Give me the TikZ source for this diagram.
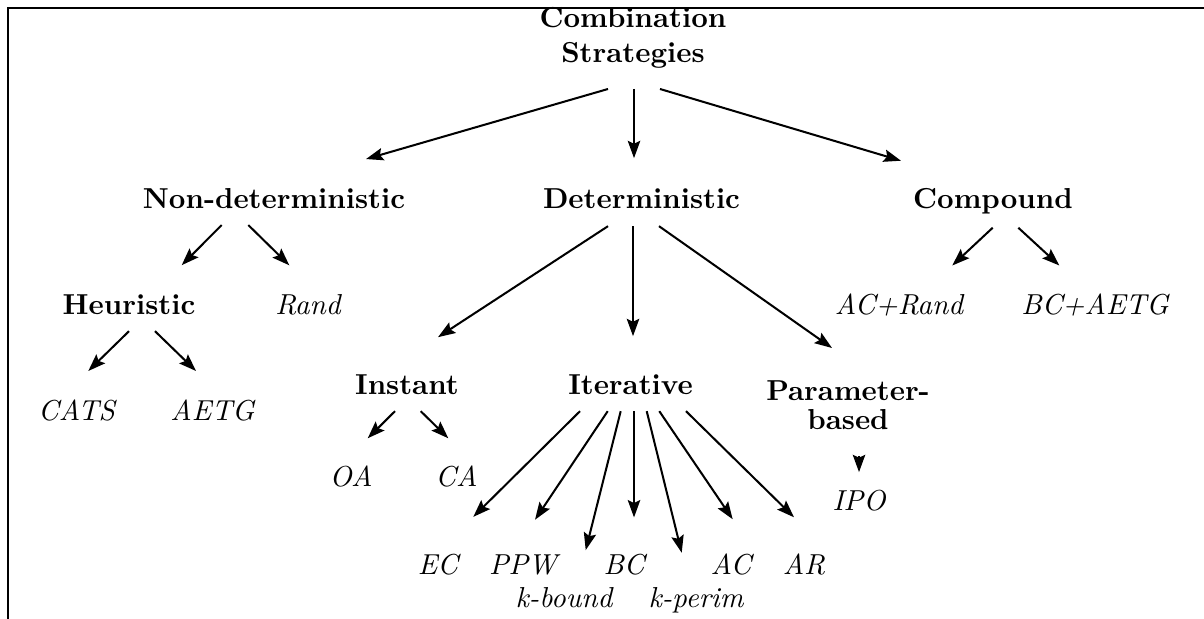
\documentclass[tikz,border=0pt]{standalone}
\usetikzlibrary{calc,arrows.meta}
\tikzset{
  x=0.3464pt, y=-0.3464pt,
  cat/.style={font=\bfseries, inner sep=0pt, anchor=base},
  leaf/.style={font=\itshape, inner sep=0pt, anchor=base},
  arr/.style={line width=0.7pt, -{Stealth[length=6pt,width=4.3pt,inset=1pt]}},
  framel/.style={line width=0.85pt}
}
\newcommand\mylink[4]{\draw[arr] ($(#1)+(#2)$) -- ($(#3)+(#4)$);}
\begin{document}
\begin{tikzpicture}
\useasboundingbox (0,0) rectangle (1204,619);
\draw[framel] (1204,8) -- (8,8) -- (8,619);

\node[font=\bfseries, inner sep=0pt, align=center] (cs) at (633,38) {Combination\\Strategies};
\node[cat] (nd) at (274,209) {Non-deterministic};
\node[cat] (det) at (641.5,209) {Deterministic};
\node[cat] (cp) at (993,209) {Compound};
\node[cat] (heu) at (129,315) {Heuristic};
\node[leaf] (rand) at (308,315) {Rand};
\node[leaf] (cats) at (76.5,421) {CATS};
\node[leaf] (aetg) at (212.5,421) {AETG};
\node[leaf] (acr) at (899,315) {AC+Rand};
\node[leaf] (bca) at (1095,315) {BC+AETG};
\node[cat] (inst) at (407,395) {Instant};
\node[cat] (iter) at (630.5,395) {Iterative};
\node[font=\bfseries, inner sep=0pt, align=center] (par) at (848,405) {Parameter-\\[-2pt]based};
\node[leaf] (oa) at (351,487) {OA};
\node[leaf] (ca) at (456.5,487) {CA};
\node[leaf] (ipo) at (859,511) {IPO};
\node[leaf] (ec) at (438,574) {EC};
\node[leaf] (ppw) at (523,574) {PPW};
\node[leaf] (bc) at (624,574) {BC};
\node[leaf] (ac) at (731,574) {AC};
\node[leaf] (ar) at (804,574) {AR};
\node[leaf] (kb) at (564,607) {k-bound};
\node[leaf] (kp) at (696,607) {k-perim};

\mylink{cs}{-25,51}{nd}{92,-40}
\mylink{cs}{1,51}{det}{-7.5,-41}
\mylink{cs}{27,51}{cp}{-92,-41}

\mylink{nd}{-52.3,26}{heu}{52.7,-40}
\mylink{nd}{-25.7,26}{rand}{-18.7,-40}

\mylink{heu}{0,26}{cats}{11.8,-40}
\mylink{heu}{26,26}{aetg}{-16.5,-40}

\mylink{det}{-33.5,27}{inst}{31,-48}
\mylink{det}{-8.5,27}{iter}{2.5,-49}
\mylink{det}{17.5,27}{par}{-16,-57}

\mylink{cp}{-0.3,26}{acr}{53.3,-40}
\mylink{cp}{25.3,26}{bca}{-35.7,-40}

\mylink{inst}{-12,26}{oa}{16.7,-38.7}
\mylink{inst}{13.7,26}{ca}{-8.2,-38.7}

\mylink{par}{11,51}{ipo}{0,-29}

\mylink{iter}{-50.5,26}{ec}{35.3,-47.3}
\mylink{iter}{-22.8,26}{ppw}{12,-44.7}
\mylink{iter}{-9.8,26}{kb}{21.7,-47}
\mylink{iter}{3.5,26}{bc}{10,-46.7}
\mylink{iter}{16.2,26}{kp}{-14.3,-47}
\mylink{iter}{28.8,26}{ac}{1.7,-44.7}
\mylink{iter}{55.5,26}{ar}{-10,-46.7}
\end{tikzpicture}
\end{document}
